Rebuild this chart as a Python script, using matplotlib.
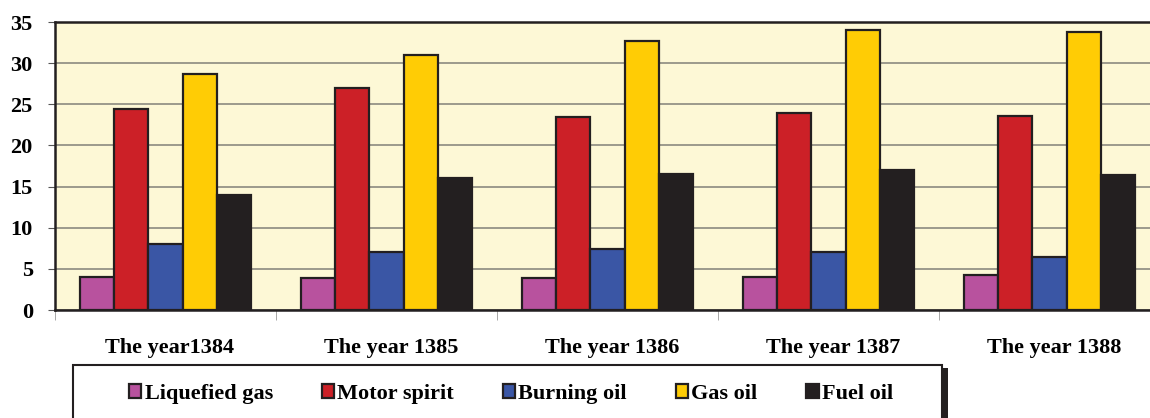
import numpy as np
import matplotlib
matplotlib.use("Agg")
import matplotlib.pyplot as plt
from matplotlib.patches import Rectangle

years = ["The year1384", "The year 1385", "The year 1386", "The year 1387", "The year 1388"]
products = ["Liquefied gas", "Motor spirit", "Burning oil", "Gas oil", "Fuel oil"]
liquefied_gas = [4.0, 3.9, 3.9, 4.0, 4.3]
motor_spirit = [24.4, 27.0, 23.5, 24.0, 23.6]
burning_oil = [8.0, 7.0, 7.4, 7.0, 6.5]
gas_oil = [28.7, 31.0, 32.7, 34.0, 33.8]
fuel_oil = [14.0, 16.0, 16.5, 17.0, 16.4]
colors = ["#B8529E", "#CC2027", "#3A56A5", "#FFCC05", "#231F20"]

series = [liquefied_gas, motor_spirit, burning_oil, gas_oil, fuel_oil]

plt.rcParams['font.family'] = ['Liberation Serif', 'DejaVu Serif']
plt.rcParams['font.weight'] = 'bold'

fig = plt.figure(figsize=(11.5, 4.18), dpi=100)
ax = fig.add_axes([55/1150, 108/418, 1105/1150, 288/418])
ax.set_facecolor("#FDF8D6")

x = np.arange(len(years))
w = 0.155
for i, vals in enumerate(series):
    ax.bar(x + (i - 2) * w, vals, w, color=colors[i], edgecolor="#231F20",
           linewidth=1.6, label=products[i], zorder=3)

ax.set_xlim(-0.5, 4.5)
ax.set_ylim(0, 35)
ax.set_yticks(range(0, 36, 5))
ax.yaxis.grid(True, color="#8C8A80", linewidth=1.2, zorder=0)
ax.set_xticks(x + 0.02)
ax.set_xticklabels(years, fontsize=16, fontweight='bold')
ax.set_xticks(np.arange(-0.5, 5, 1), minor=True)
ax.tick_params(axis='x', which='major', length=0, pad=20)
ax.tick_params(axis='x', which='minor', length=7, color="#999999", direction='out')
ax.tick_params(axis='y', length=5, color="#555555", labelsize=16, pad=11)
for t in ax.get_yticklabels():
    t.set_fontweight('bold')

for s in ["top", "left", "bottom", "right"]:
    ax.spines[s].set_color("#231F20")
    ax.spines[s].set_linewidth(1.8)

# legend frame with shadow
fig.patches.append(Rectangle((79/1150, -0.05), 869/1150, 50/418 + 0.05,
                             transform=fig.transFigure, facecolor="#231F20",
                             edgecolor="none", zorder=1))
fig.patches.append(Rectangle((73/1150, -0.05), 869/1150, 53/418 + 0.05,
                             transform=fig.transFigure, facecolor="white",
                             edgecolor="#231F20", linewidth=1.5, zorder=2))
leg = fig.legend(loc="center", bbox_to_anchor=(511/1150, 24/418), ncol=5,
                 frameon=False, handlelength=0.55, handleheight=0.55,
                 handletextpad=0.15, columnspacing=2.2, prop={'weight': 'bold', 'size': 16})
leg.set_zorder(3)

fig.savefig("out.png", dpi=100)
